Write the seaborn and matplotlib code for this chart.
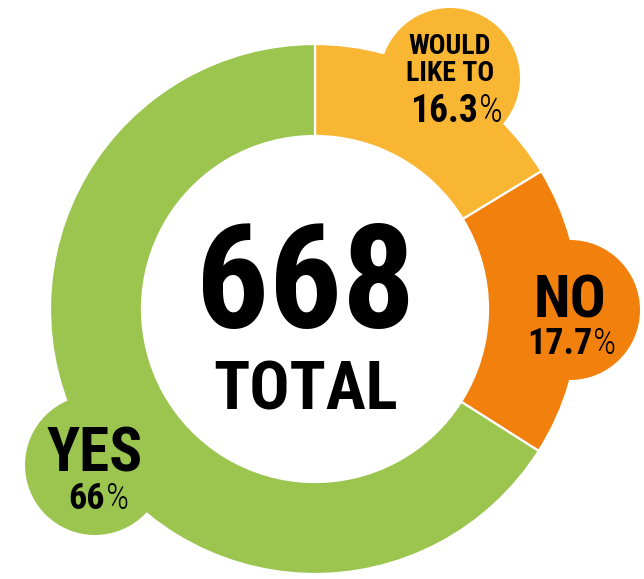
import matplotlib
matplotlib.use("Agg")
import matplotlib.pyplot as plt
from matplotlib.patches import Circle
from matplotlib import font_manager as fm
import seaborn as sns

# ---------------- data ----------------
categories = ["WOULD\nLIKE TO", "NO", "YES"]
shares = [16.3, 17.7, 66.0]
share_labels = ["16.3", "17.7", "66"]
total = 668
total_label = "TOTAL"
colors = ["#F9B633", "#F2800D", "#9BC54F"]

# ---------------- style ----------------
sns.set_theme(style="white")
names = {f.name for f in fm.fontManager.ttflist}
family = "DejaVu Sans"
for cand in ["Roboto Condensed", "Liberation Sans Narrow", "Open Sans Condensed",
             "Liberation Sans", "Roboto"]:
    if cand in names:
        family = cand
        break
plt.rcParams["font.family"] = [family, "DejaVu Sans"]

W, H = 644, 579
def Y(y):
    return H - y

fig = plt.figure(figsize=(W / 100, H / 100), dpi=100)
ax = fig.add_axes([0, 0, 1, 1])

cx, cy = 315, Y(309)
R_out, R_in = 265, 173
ax.pie(shares, colors=colors, startangle=90, counterclock=False,
       radius=R_out, center=(cx, cy),
       wedgeprops=dict(width=R_out - R_in, edgecolor="white", linewidth=1.6))

# bubbles (layout, pixel coords)
bubble_xy = [(450, 78), (570, 310), (95, 465)]
bubble_r = 70
for (bx, by), col in zip(bubble_xy, colors):
    ax.add_patch(Circle((bx, Y(by)), bubble_r, facecolor=col, edgecolor="none", zorder=3))

ax.set_xlim(0, W)
ax.set_ylim(0, H)
ax.set_aspect("equal")
ax.axis("off")

# center text
ax.text(306, Y(328), f"{total}", ha="center", va="baseline", fontsize=104,
        fontweight="bold", color="black", zorder=5)
ax.text(306, Y(409), total_label, ha="center", va="baseline", fontsize=48,
        fontweight="bold", color="black", zorder=5)

# category labels
cat_specs = [
    (450, 81, 20),
    (570, 318, 43),
    (95, 472, 44),
]
for (x, yb, fs), lab in zip(cat_specs, categories):
    ax.text(x, Y(yb), lab, ha="center", va="baseline", fontsize=fs,
            fontweight="bold", color="black", linespacing=1.0, zorder=5)

# percentages: bold number + light percent sign
pct_specs = [
    (444, 122, 27),
    (560, 354, 26),
    (87, 509, 26),
]
for (x, yb, fs), num in zip(pct_specs, share_labels):
    t = ax.text(x, Y(yb), num, ha="center", va="baseline", fontsize=fs,
                fontweight="bold", color="black", zorder=5)
    ax.annotate("%", xy=(1, 0), xycoords=t, xytext=(0.5, 0),
                textcoords="offset points", ha="left", va="bottom",
                fontsize=fs, fontweight="light", color="black", zorder=5)

fig.savefig("out.png", dpi=100)
